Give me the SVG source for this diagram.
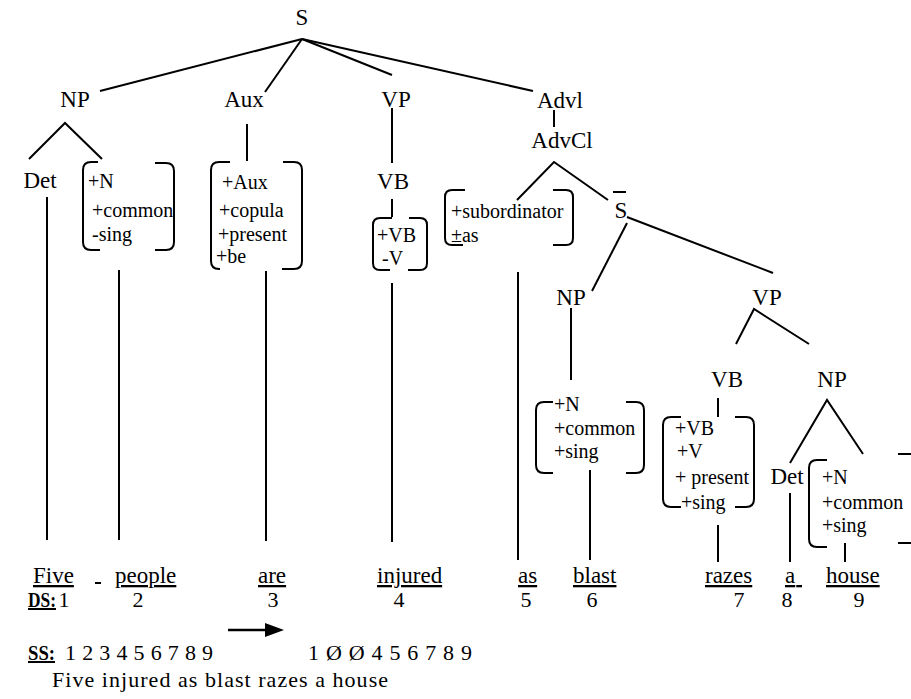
<svg xmlns="http://www.w3.org/2000/svg" width="911" height="699" viewBox="0 0 911 699">
<style>
text{font-family:"Liberation Serif","Times New Roman",Tinos,"Nimbus Roman","DejaVu Serif",serif;fill:#000}
.n{font-size:23px;text-anchor:middle}
.f{font-size:20px}
.w{font-size:23px;text-decoration:underline}
.d{font-size:22px;text-anchor:middle}
.b{font-size:20px;font-weight:bold;text-decoration:underline}
.t{font-size:22px}
line,path{stroke:#000;stroke-width:2;fill:none}
</style>
<rect width="911" height="699" fill="#fff"/>
<g id="connectors">
<line x1="302" y1="39" x2="100" y2="91"/>
<line x1="302" y1="39" x2="265" y2="92"/>
<line x1="302" y1="39" x2="392" y2="75"/>
<line x1="302" y1="39" x2="533" y2="91"/>
<path d="M29,159 L65,123 L102,159"/>
<line x1="247" y1="124" x2="247" y2="161"/>
<line x1="392" y1="108" x2="392" y2="163"/>
<line x1="392" y1="199" x2="392" y2="217"/>
<line x1="554" y1="110" x2="554" y2="127"/>
<path d="M517,200 L554,162 L608,200"/>
<line x1="627" y1="217" x2="773" y2="273"/>
<line x1="627" y1="223" x2="592" y2="291"/>
<line x1="571" y1="308" x2="571" y2="380"/>
<path d="M736,344 L754,309 L809,344"/>
<line x1="718" y1="398" x2="718" y2="417"/>
<path d="M790,463 L827,400 L863,454"/>
<line x1="47" y1="197" x2="47" y2="540"/>
<line x1="119" y1="270" x2="119" y2="540"/>
<line x1="266" y1="271" x2="266" y2="541"/>
<line x1="392" y1="283" x2="392" y2="542"/>
<line x1="518" y1="272" x2="518" y2="560"/>
<line x1="590" y1="470" x2="590" y2="560"/>
<line x1="718" y1="525" x2="718" y2="562"/>
<line x1="790" y1="493" x2="790" y2="562"/>
<line x1="845" y1="543" x2="845" y2="562"/>
</g>
<g id="n-S"><text class="n" x="302" y="25">S</text></g>
<g id="n-NP"><text class="n" x="75" y="107">NP</text></g>
<g id="n-Aux"><text class="n" x="244" y="107">Aux</text></g>
<g id="n-VP"><text class="n" x="396" y="107">VP</text></g>
<g id="n-Advl"><text class="n" x="560" y="108">Advl</text></g>
<g id="n-AdvCl"><text class="n" x="562" y="148">AdvCl</text></g>
<g id="n-Det1"><text class="n" x="40" y="188">Det</text></g>
<g id="n-VB1"><text class="n" x="393" y="189">VB</text></g>
<g id="n-Sbar"><text class="n" x="621" y="218">S</text><line x1="613" y1="192" x2="626" y2="192"/></g>
<g id="n-NP2"><text class="n" x="571" y="305">NP</text></g>
<g id="n-VP2"><text class="n" x="767" y="305">VP</text></g>
<g id="n-VB2"><text class="n" x="727" y="387">VB</text></g>
<g id="n-NP3"><text class="n" x="832" y="387">NP</text></g>
<g id="n-Det2"><text class="n" x="787" y="484">Det</text></g>
<g id="f1">
<path d="M98,162 L91,162 Q83,162 83,170 L83,242 Q83,250 91,250 L100,250"/>
<path d="M155,163 L166,163 Q174,163 174,171 L174,242 Q174,250 166,250 L155,250"/>
<text class="f" x="88" y="188">+N</text><text class="f" x="92" y="217">+common</text><text class="f" x="92" y="241">-sing</text>
</g>
<g id="f2">
<path d="M230,162 L219,162 Q211,162 211,170 L211,261 Q211,269 219,269 L220,269"/>
<path d="M283,162 L294,162 Q302,162 302,170 L302,261 Q302,269 294,269 L282,269"/>
<text class="f" x="222" y="189">+Aux</text><text class="f" x="219" y="217">+copula</text><text class="f" x="218" y="241">+present</text><text class="f" x="216" y="263">+be</text>
</g>
<g id="f3">
<path d="M392,218 L380,218 Q373,218 373,225 L373,263 Q373,270 380,270 L390,270"/>
<path d="M409,218 L420,218 Q427,218 427,225 L427,263 Q427,270 420,270 L408,270"/>
<text class="f" x="377" y="242">+VB</text><text class="f" x="382" y="265">-V</text>
</g>
<g id="f4">
<path d="M465,190 L452,190 Q445,190 445,197 L445,238 Q445,245 452,245 L463,245"/>
<path d="M553,190 L566,190 Q573,190 573,197 L573,238 Q573,245 566,245 L553,245"/>
<text class="f" x="451" y="218">+subordinator</text><text class="f" x="451" y="242">±as</text>
</g>
<g id="f5">
<path d="M553,402 L544,402 Q536,402 536,410 L536,465 Q536,473 544,473 L553,473"/>
<path d="M626,402 L636,402 Q644,402 644,410 L644,465 Q644,473 636,473 L626,473"/>
<text class="f" x="554" y="411">+N</text><text class="f" x="554" y="435">+common</text><text class="f" x="554" y="458">+sing</text>
</g>
<g id="f6">
<path d="M681,417 L671,417 Q663,417 663,425 L663,499 Q663,507 671,507 L681,507"/>
<path d="M735,417 L746,417 Q754,417 754,425 L754,499 Q754,507 746,507 L735,507"/>
<text class="f" x="675" y="435">+VB</text><text class="f" x="677" y="458">+V</text><text class="f" x="675" y="484">+ present</text><text class="f" x="681" y="509">+sing</text>
</g>
<g id="f7">
<path d="M827,460 L817,460 Q809,460 809,468 L809,539 Q809,547 817,547 L827,547"/>
<path d="M898,454 L910,454 Q918,454 918,462 L918,535 Q918,543 910,543 L898,543"/>
<text class="f" x="822" y="484">+N</text><text class="f" x="822" y="509">+common</text><text class="f" x="822" y="532">+sing</text>
</g>
<g id="words">
<text class="w" x="33" y="583">Five</text>
<line x1="95" y1="583" x2="101" y2="583"/>
<text class="w" x="115" y="583">people</text>
<text class="w" x="258" y="583">are</text>
<text class="w" x="377" y="583">injured</text>
<text class="w" x="518" y="583">as</text>
<text class="w" x="573" y="583">blast</text>
<text class="w" x="705" y="583">razes</text>
<text class="w" x="785" y="583" textLength="17" lengthAdjust="spacing" xml:space="preserve">a </text>
<text class="w" x="826" y="583">house</text>
</g>
<g id="ds">
<text class="b" x="28" y="607" textLength="28" lengthAdjust="spacingAndGlyphs">DS:</text>
<text class="d" x="64" y="607">1</text>
<text class="d" x="138" y="607">2</text>
<text class="d" x="273" y="607">3</text>
<text class="d" x="399" y="607">4</text>
<text class="d" x="526" y="607">5</text>
<text class="d" x="592" y="607">6</text>
<text class="d" x="739" y="607">7</text>
<text class="d" x="787" y="607">8</text>
<text class="d" x="859" y="607">9</text>
</g>
<g id="arrow">
<line x1="228" y1="630" x2="268" y2="630" style="stroke-width:2.5"/>
<polygon points="265,623 284,630 265,637" fill="#000"/>
</g>
<g id="ss">
<text class="b" x="28" y="660" textLength="27" lengthAdjust="spacingAndGlyphs">SS:</text>
<text class="t" x="65" y="660" textLength="148" lengthAdjust="spacing">1 2 3 4 5 6 7 8 9</text>
<text class="t" x="308" y="660" textLength="164" lengthAdjust="spacing">1 Ø Ø 4 5 6 7 8 9</text>
<text class="t" x="52" y="687" textLength="336" lengthAdjust="spacing">Five injured as blast razes a house</text>
</g>
</svg>
